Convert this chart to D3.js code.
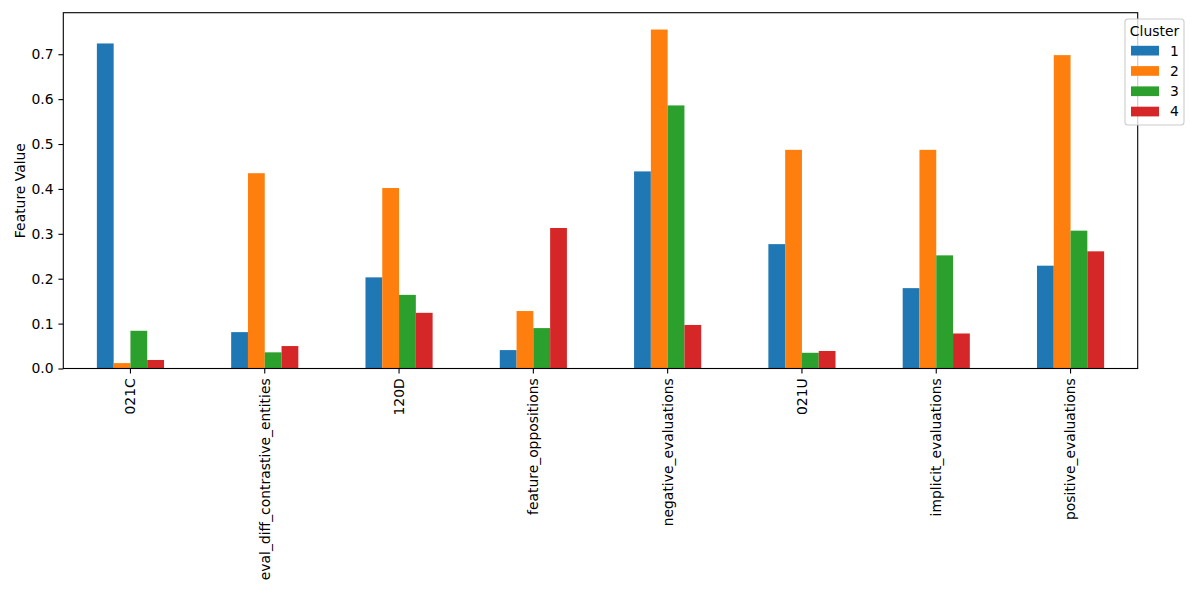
<!DOCTYPE html>
<html>
<head>
<meta charset="utf-8">
<script src="https://cdn.jsdelivr.net/npm/d3@7"></script>
<style>
  body { margin: 0; background: #fff; }
  text { font-family: "DejaVu Sans", sans-serif; fill: #000; }
</style>
</head>
<body>
<div class="chart-area"></div>
<script>
var features = [
  "021C",
  "eval_diff_contrastive_entities",
  "120D",
  "feature_oppositions",
  "negative_evaluations",
  "021U",
  "implicit_evaluations",
  "positive_evaluations"
];

var clusters = ["1", "2", "3", "4"];

var cluster1 = [0.724, 0.081, 0.203, 0.041, 0.439, 0.277, 0.179, 0.229],
    cluster2 = [0.012, 0.435, 0.402, 0.128, 0.755, 0.487, 0.487, 0.698],
    cluster3 = [0.084, 0.036, 0.164, 0.090, 0.586, 0.035, 0.252, 0.307],
    cluster4 = [0.019, 0.050, 0.124, 0.313, 0.097, 0.039, 0.078, 0.261];

var yTicks = [0, 0.1, 0.2, 0.3, 0.4, 0.5, 0.6, 0.7];

var colors = ["#1f77b4", "#ff7f0e", "#2ca02c", "#d62728"];

var series = [cluster1, cluster2, cluster3, cluster4];

var chartWidth = 1200,
    chartHeight = 597,
    plotLeft = 63.3,
    plotRight = 1137.7,
    plotTop = 12.7,
    plotBottom = 368.5,
    fontSize = 13.9;

var svg = d3.select(".chart-area")
            .append("svg")
            .attr("width", chartWidth)
            .attr("height", chartHeight);

var x = d3.scaleBand()
          .domain(features)
          .range([plotLeft, plotRight])
          .paddingInner(0.5)
          .paddingOuter(0.25);

var xSub = d3.scaleBand()
             .domain(clusters)
             .range([0, x.bandwidth()]);

var y = d3.scaleLinear()
          .domain([0, 0.7925])
          .range([plotBottom, plotTop]);

// bars
var groups = svg.selectAll(".group")
   .data(features)
   .enter()
   .append("g")
   .attr("class", "group")
   .attr("transform", function(d) { return "translate(" + x(d) + ",0)" });

groups.selectAll("rect")
   .data(function(d, i) { return series.map(function(s, j) { return { c: clusters[j], v: s[i], k: j } }) })
   .enter()
   .append("rect")
   .attr("x", function(d) { return xSub(d.c) })
   .attr("y", function(d) { return y(d.v) })
   .attr("width", xSub.bandwidth())
   .attr("height", function(d) { return plotBottom - y(d.v) })
   .attr("fill", function(d) { return colors[d.k] });

// axes
var xAxis = svg.append("g")
   .attr("transform", "translate(0," + plotBottom + ")")
   .call(d3.axisBottom(x).tickSize(4.9).tickPadding(4.9));

xAxis.select(".domain").remove();
xAxis.selectAll(".tick line").attr("stroke", "#000").attr("stroke-width", 1.1);
xAxis.selectAll(".tick text")
   .style("font-size", fontSize + "px")
   .style("font-family", "DejaVu Sans")
   .attr("fill", "#000")
   .attr("text-anchor", "end")
   .attr("dy", "0.35em")
   .attr("transform", "rotate(-90)")
   .attr("x", -9.8)
   .attr("y", 0);

var yAxis = svg.append("g")
   .attr("transform", "translate(" + plotLeft + ",0)")
   .call(d3.axisLeft(y).tickValues(yTicks).tickFormat(d3.format(".1f")).tickSize(4.9).tickPadding(4.9));

yAxis.select(".domain").remove();
yAxis.selectAll(".tick line").attr("stroke", "#000").attr("stroke-width", 1.1);
yAxis.selectAll(".tick text")
   .style("font-size", fontSize + "px")
   .style("font-family", "DejaVu Sans")
   .attr("fill", "#000");

// frame
svg.append("rect")
   .attr("x", plotLeft)
   .attr("y", plotTop)
   .attr("width", plotRight - plotLeft)
   .attr("height", plotBottom - plotTop)
   .attr("fill", "none")
   .attr("stroke", "#000")
   .attr("stroke-width", 1.1);

svg.append("text")
   .attr("transform", "translate(20," + (plotTop + plotBottom) / 2 + ") rotate(-90)")
   .attr("text-anchor", "middle")
   .attr("dy", "0.35em")
   .style("font-size", fontSize + "px")
   .text("Feature Value");

// legend
var legend = svg.append("g").attr("transform", "translate(1125,19)");

legend.append("rect")
   .attr("width", 59)
   .attr("height", 106)
   .attr("rx", 3)
   .attr("fill", "#fff")
   .attr("fill-opacity", 0.8)
   .attr("stroke", "#cccccc")
   .attr("stroke-width", 1.1);

legend.append("text")
   .attr("x", 29.5)
   .attr("y", 11.7)
   .attr("dy", "0.35em")
   .attr("text-anchor", "middle")
   .style("font-size", fontSize + "px")
   .text("Cluster");

var items = legend.selectAll(".item")
   .data(clusters)
   .enter()
   .append("g")
   .attr("class", "item")
   .attr("transform", function(d, i) { return "translate(0," + (31.7 + i * 20.3) + ")" });

items.append("rect")
   .attr("x", 6)
   .attr("y", -4.9)
   .attr("width", 28)
   .attr("height", 9.7)
   .attr("fill", function(d, i) { return colors[i] });

items.append("text")
   .attr("x", 45)
   .attr("dy", "0.35em")
   .style("font-size", fontSize + "px")
   .text(function(d) { return d });
</script>
</body>
</html>
